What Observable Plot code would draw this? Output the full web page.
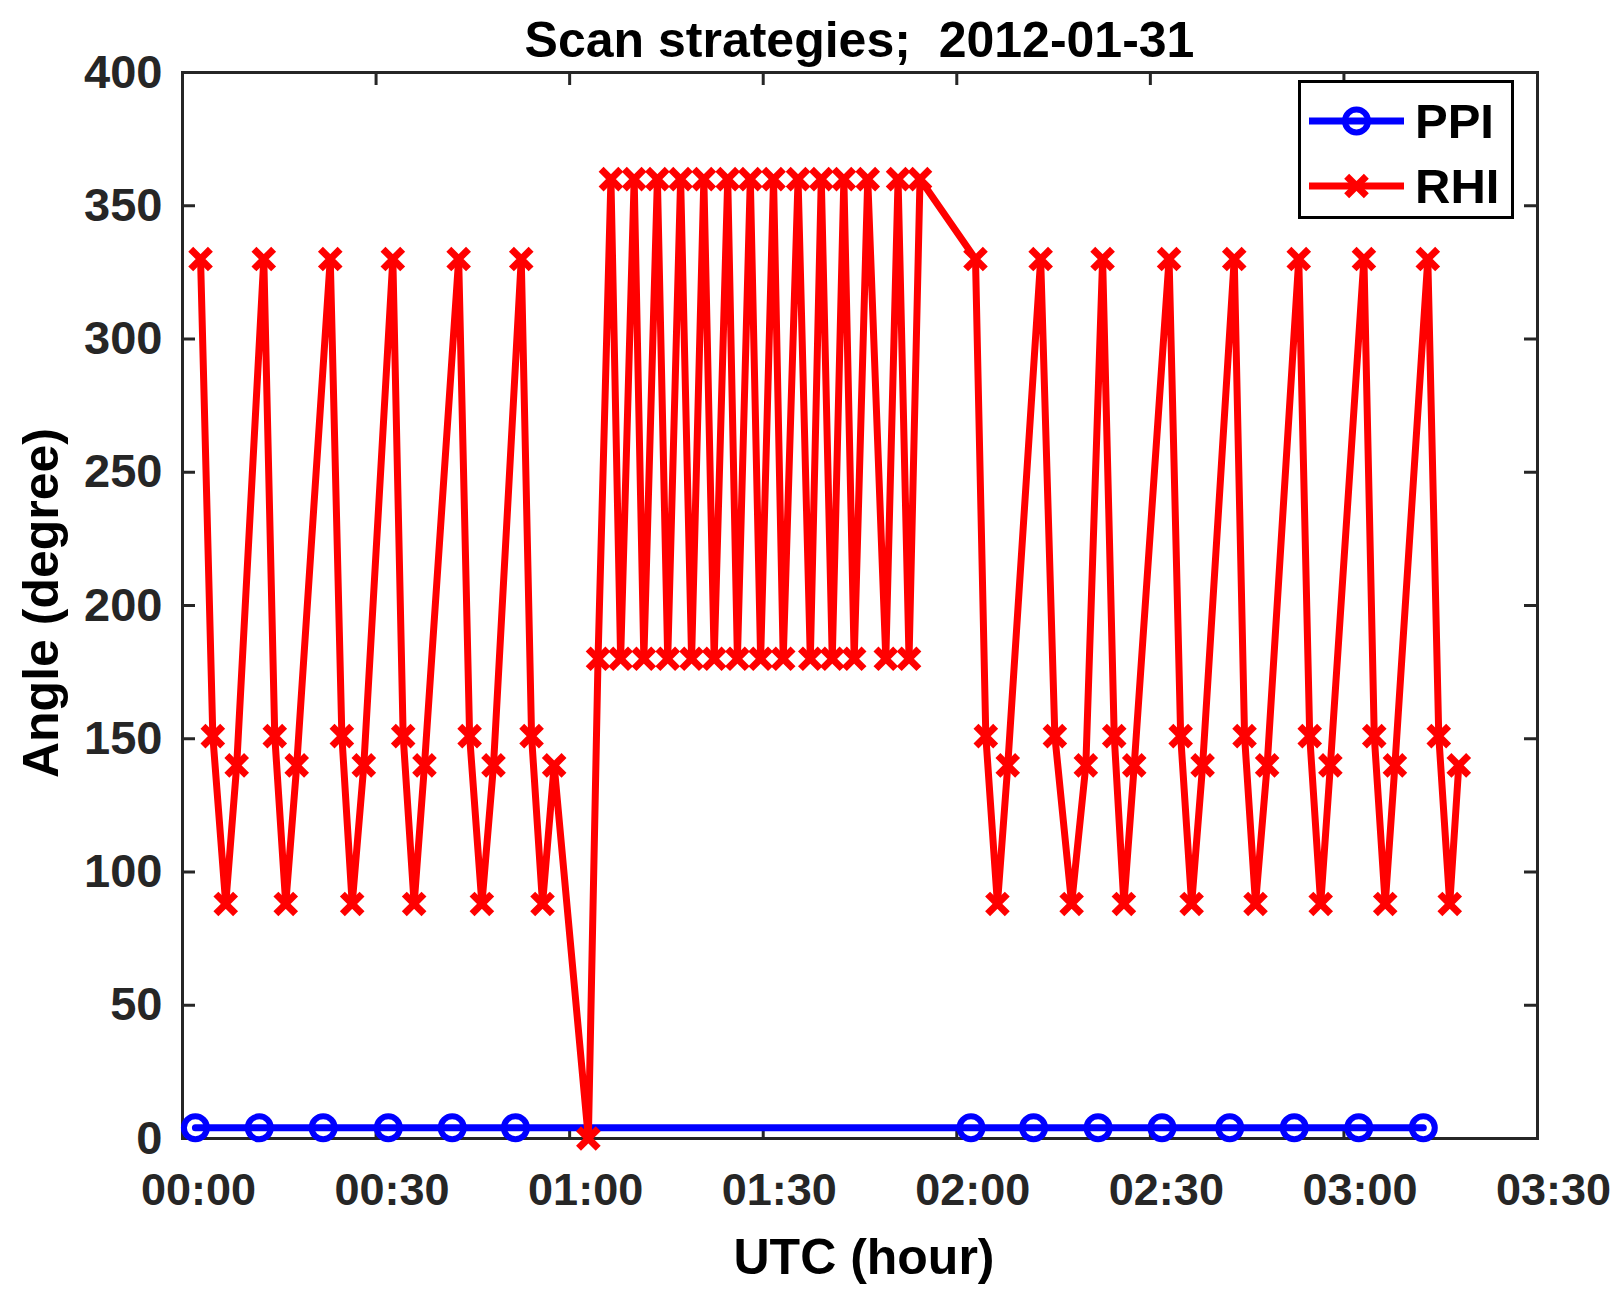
<!DOCTYPE html>
<html>
<head>
<meta charset="utf-8">
<script src="https://cdn.jsdelivr.net/npm/d3@7"></script>
<script src="https://cdn.jsdelivr.net/npm/@observablehq/plot@0.6"></script>
<style>
html, body { margin: 0; padding: 0; background: #fff; }
#fig { position: relative; width: 1622px; height: 1302px; font-family: "Liberation Sans", Arial, Helvetica, sans-serif; font-weight: bold; }
.ov { position: absolute; white-space: pre; line-height: 1; }
</style>
</head>
<body>
<div id="fig"></div>
<script>
// ---------- chart text ----------
const chartTitle = "Scan strategies;  2012-01-31";
const xLabel = "UTC (hour)";
const yLabel = "Angle (degree)";
const seriesNames = ["PPI", "RHI"];

// ---------- ticks ----------
const xTicks = [0, 30, 60, 90, 120, 150, 180, 210];          // minutes after 00:00 UTC
const yTicks = [0, 50, 100, 150, 200, 250, 300, 350, 400];

// ---------- PPI series (minutes, degrees) ----------
const ppiTime  = [2.0, 11.9, 21.8, 31.9, 41.8, 51.6, 122.2, 131.9, 141.9, 151.8, 162.3, 172.3, 182.3, 192.3];
const ppiAngle = [4, 4, 4, 4, 4, 4, 4, 4, 4, 4, 4, 4, 4, 4];

// ---------- RHI series (minutes, degrees) ----------
const rhiTime = [
  2.8, 4.7, 6.7, 8.4,
  12.6, 14.3, 16.0, 17.7,
  22.9, 24.7, 26.3, 28.1,
  32.6, 34.2, 35.9, 37.5,
  42.8, 44.5, 46.4, 48.2,
  52.5, 54.1, 55.8, 57.6,
  62.9,
  64.4, 66.4, 67.9, 70.0, 71.5, 73.6, 75.2, 77.2, 78.9, 80.8, 82.4, 84.5, 86.0, 88.0,
  89.6, 91.6, 93.1, 95.4, 97.3, 99.0, 100.7, 102.5, 104.1, 106.2, 109.0, 110.9, 112.6, 114.3,
  122.9, 124.5, 126.3, 127.9,
  133.0, 135.2, 137.8, 140.0,
  142.6, 144.4, 145.9, 147.5,
  152.9, 154.7, 156.4, 158.1,
  163.0, 164.6, 166.3, 168.1,
  173.0, 174.7, 176.4, 177.9,
  183.1, 184.7, 186.4, 187.9,
  193.0, 194.7, 196.4, 197.8
];
const rhiAngle = [
  330, 151, 88, 140,
  330, 151, 88, 140,
  330, 151, 88, 140,
  330, 151, 88, 140,
  330, 151, 88, 140,
  330, 151, 88, 140,
  0,
  180, 360, 180, 360, 180, 360, 180, 360, 180, 360, 180, 360, 180, 360,
  180, 360, 180, 360, 180, 360, 180, 360, 180, 360, 180, 360, 180, 360,
  330, 151, 88, 140,
  330, 151, 88, 140,
  330, 151, 88, 140,
  330, 151, 88, 140,
  330, 151, 88, 140,
  330, 151, 88, 140,
  330, 151, 88, 140,
  330, 151, 88, 140
];

// ---------- build tables ----------
const ppi = ppiTime.map((t, i) => ({t, v: ppiAngle[i]}));
const rhi = rhiTime.map((t, i) => ({t, v: rhiAngle[i]}));

const W = 1622, H = 1302;
const mL = 182, mR = 85, mT = 72, mB = 164;
const plotW = W - mL - mR, plotH = H - mT - mB;
const tickLen = 13;
const axisColor = "#262626";
const FONT = '"Liberation Sans", Arial, Helvetica, sans-serif';
const fmt = m => String(Math.floor(m / 60)).padStart(2, "0") + ":" + String(m % 60).padStart(2, "0");

const chart = Plot.plot({
  width: W, height: H,
  marginLeft: mL, marginRight: mR, marginTop: mT, marginBottom: mB,
  style: {fontFamily: FONT, fontWeight: "bold", color: axisColor, background: "white", overflow: "visible"},
  x: {domain: [0, 210], label: null},
  y: {domain: [0, 400], label: null},
  marks: [
    Plot.frame({stroke: axisColor, strokeWidth: 3}),
    Plot.tickY(yTicks, {y: d => d, stroke: axisColor, strokeWidth: 3, insetRight: plotW - tickLen}),
    Plot.tickY(yTicks, {y: d => d, stroke: axisColor, strokeWidth: 3, insetLeft: plotW - tickLen}),
    Plot.tickX(xTicks, {x: d => d, stroke: axisColor, strokeWidth: 3, insetTop: plotH - tickLen}),
    Plot.tickX(xTicks, {x: d => d, stroke: axisColor, strokeWidth: 3, insetBottom: plotH - tickLen}),
    Plot.axisX(xTicks, {anchor: "bottom", tickSize: 0, tickPadding: 35, fontSize: 45, fontWeight: "bold", tickFormat: fmt, dx: 16, label: null}),
    Plot.axisY(yTicks, {anchor: "left", tickSize: 0, tickPadding: 20, fontSize: 47, fontWeight: "bold", label: null}),
    Plot.line(ppi, {x: "t", y: "v", stroke: "#0000ff", strokeWidth: 7}),
    Plot.dot(ppi, {x: "t", y: "v", symbol: "circle", r: 11.5, stroke: "#0000ff", strokeWidth: 6, fill: "none"}),
    Plot.line(rhi, {x: "t", y: "v", stroke: "#ff0000", strokeWidth: 7, strokeLinejoin: "round"}),
    Plot.dot(rhi, {x: "t", y: "v", symbol: "times", r: 9, stroke: "#ff0000", strokeWidth: 7})
  ]
});

const fig = document.getElementById("fig");
chart.style.position = "absolute";
chart.style.left = "0px";
chart.style.top = "0px";
fig.appendChild(chart);

// title
const t = document.createElement("div");
t.className = "ov";
t.textContent = chartTitle;
Object.assign(t.style, {left: (mL + plotW / 2) + "px", top: "15px", transform: "translateX(-50%)", fontSize: "50px", color: "#000"});
fig.appendChild(t);

// x label
const xl = document.createElement("div");
xl.className = "ov";
xl.textContent = xLabel;
Object.assign(xl.style, {left: "864px", top: "1232px", transform: "translateX(-50%)", fontSize: "50px", color: "#000"});
fig.appendChild(xl);

// y label
const yl = document.createElement("div");
yl.className = "ov";
yl.textContent = yLabel;
Object.assign(yl.style, {left: "41px", top: "603px", transform: "translate(-50%, -50%) rotate(-90deg)", fontSize: "50px", color: "#000"});
fig.appendChild(yl);

// legend (inside the axes, top-right)
const lg = document.createElement("div");
Object.assign(lg.style, {position: "absolute", left: "1298px", top: "80px", width: "216px", height: "139px", boxSizing: "border-box", border: "3px solid #000", background: "#fff"});
const ns = "http://www.w3.org/2000/svg";
const ls = document.createElementNS(ns, "svg");
ls.setAttribute("width", "210"); ls.setAttribute("height", "133");
const rows = [
  {name: seriesNames[0], color: "#0000ff", cy: 38, kind: "circle"},
  {name: seriesNames[1], color: "#ff0000", cy: 103, kind: "times"}
];
for (const r of rows) {
  const ln = document.createElementNS(ns, "line");
  ln.setAttribute("x1", 8); ln.setAttribute("x2", 103);
  ln.setAttribute("y1", r.cy); ln.setAttribute("y2", r.cy);
  ln.setAttribute("stroke", r.color); ln.setAttribute("stroke-width", 7);
  ls.appendChild(ln);
  const mk = document.createElementNS(ns, "path");
  const sym = r.kind === "circle" ? d3.symbolCircle : d3.symbolTimes;
  const rr = r.kind === "circle" ? 11.5 : 9;
  mk.setAttribute("d", d3.symbol(sym, rr * rr * Math.PI)());
  mk.setAttribute("transform", `translate(55.5,${r.cy})`);
  mk.setAttribute("fill", "none");
  mk.setAttribute("stroke", r.color);
  mk.setAttribute("stroke-width", r.kind === "circle" ? 6 : 7);
  ls.appendChild(mk);
  const tx = document.createElementNS(ns, "text");
  tx.setAttribute("x", 114); tx.setAttribute("y", r.cy + 17);
  tx.setAttribute("font-size", 49); tx.setAttribute("font-weight", "bold");
  tx.setAttribute("font-family", FONT); tx.setAttribute("fill", "#000");
  tx.textContent = r.name;
  ls.appendChild(tx);
}
lg.appendChild(ls);
fig.appendChild(lg);
</script>
</body>
</html>
